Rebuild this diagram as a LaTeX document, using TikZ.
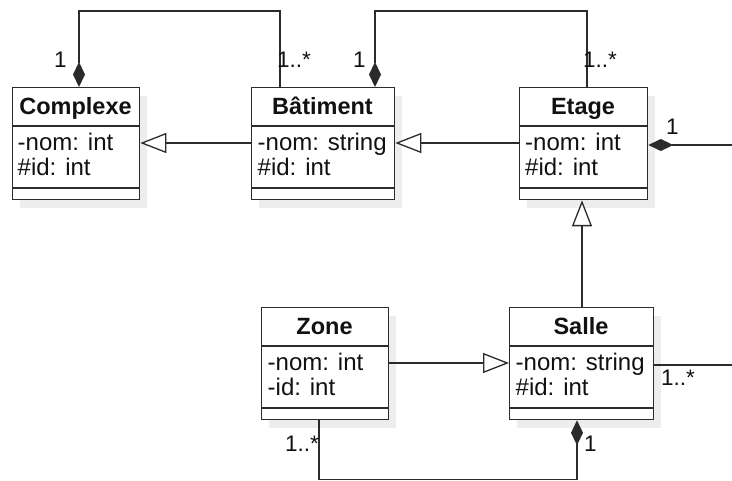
\documentclass[tikz,border=0pt]{standalone}
\usepackage{fontspec}
\setmainfont{Liberation Sans}
\usetikzlibrary{arrows.meta,shadows}
\definecolor{linec}{HTML}{2B2B2B}
\definecolor{txtc}{HTML}{111111}
\begin{document}
\begin{tikzpicture}[x=1pt,y=-1pt,
  cls/.style={draw=linec, line width=1.3pt, fill=white, rectangle, inner sep=0pt,
    minimum height=112pt, anchor=north west,
    drop shadow={shadow xshift=7pt, shadow yshift=-8pt, fill=black!7, opacity=1}},
  sep/.style={draw=linec, line width=1.3pt},
  attr/.style={anchor=base west, inner sep=0pt, text=txtc, font=\fontsize{24}{28}\selectfont},
  ttl/.style={anchor=base, inner sep=0pt, text=txtc, font=\bfseries\fontsize{23.5}{28}\selectfont},
  mult/.style={anchor=base west, inner sep=0pt, text=txtc, font=\fontsize{22.5}{26}\selectfont},
  link/.style={draw=linec, line width=1.3pt},
  gen/.style={link, -{Triangle[open, length=26pt, width=20pt, fill=white]}},
  comp/.style={link, -{Diamond[length=25pt, width=12pt, fill=linec]}}
]
\useasboundingbox (0,0) rectangle (732,481);

% class boxes
\node[cls, minimum width=127pt] (complexe) at (12,87) {};
\node[cls, minimum width=143pt] (batiment) at (251,87) {};
\node[cls, minimum width=128pt] (etage) at (519,87) {};
\node[cls, minimum width=127pt] (zone) at (261,307) {};
\node[cls, minimum width=144pt] (salle) at (509,307) {};

% compartment lines
\foreach \n/\t in {complexe/87, batiment/87, etage/87, zone/307, salle/307}{
  \draw[sep] (\n.west |- 0,\t+39) -- (\n.east |- 0,\t+39);
  \draw[sep] (\n.west |- 0,\t+101) -- (\n.east |- 0,\t+101);
}

% titles
\node[ttl] (tcomplexe) at (75.5,115) {Complexe};
\node[ttl] (tbatiment) at (322.5,115) {Bâtiment};
\node[ttl] (tetage) at (583,115) {Etage};
\node[ttl] (tzone) at (324.5,335) {Zone};
\node[ttl] (tsalle) at (581,335) {Salle};

% attributes
\node[attr] (a1) at (17.5,151) {-nom: int};
\node[attr] (a2) at (17.5,176) {\#id: int};
\node[attr] (b1) at (257.5,151) {-nom: string};
\node[attr] (b2) at (257.5,176) {\#id: int};
\node[attr] (e1) at (525,151) {-nom: int};
\node[attr] (e2) at (525,176) {\#id: int};
\node[attr] (z1) at (267.5,371) {-nom: int};
\node[attr] (z2) at (267.5,396) {-id: int};
\node[attr] (s1) at (515.5,371) {-nom: string};
\node[attr] (s2) at (515.5,396) {\#id: int};

% border coordinates
\coordinate (rightA) at (732,145);
\coordinate (rightB) at (732,365);

% compositions
\draw[comp] (batiment.north -| 280,0) |- (79,11) -- (complexe.north -| 79,0);
\draw[comp] (etage.north -| 587,0) |- (375,11) -- (batiment.north -| 375,0);
\draw[comp] (rightA) -- (etage.east |- 0,145);
\draw[comp] (zone.south -| 319,0) |- (577,479.5) -- (salle.south -| 577,0);

% generalizations
\draw[gen] (batiment.west |- 0,143) -- (complexe.east |- 0,143);
\draw[gen] (etage.west |- 0,143) -- (batiment.east |- 0,143);
\draw[gen] (salle.north -| 582,0) -- (etage.south -| 582,0);
\draw[gen] (zone.east |- 0,363) -- (salle.west |- 0,363);

% plain association
\draw[link] (salle.east |- 0,365) -- (rightB);

% multiplicities
\node[mult] (m1) at (54,68) {1};
\node[mult] (m2) at (277,68) {1..*};
\node[mult] (m3) at (353,68) {1};
\node[mult] (m4) at (583,68) {1..*};
\node[mult] (m5) at (666,135) {1};
\node[mult] (m6) at (661,386) {1..*};
\node[mult] (m7) at (285,452) {1..*};
\node[mult] (m8) at (584,452) {1};
\end{tikzpicture}
\end{document}
